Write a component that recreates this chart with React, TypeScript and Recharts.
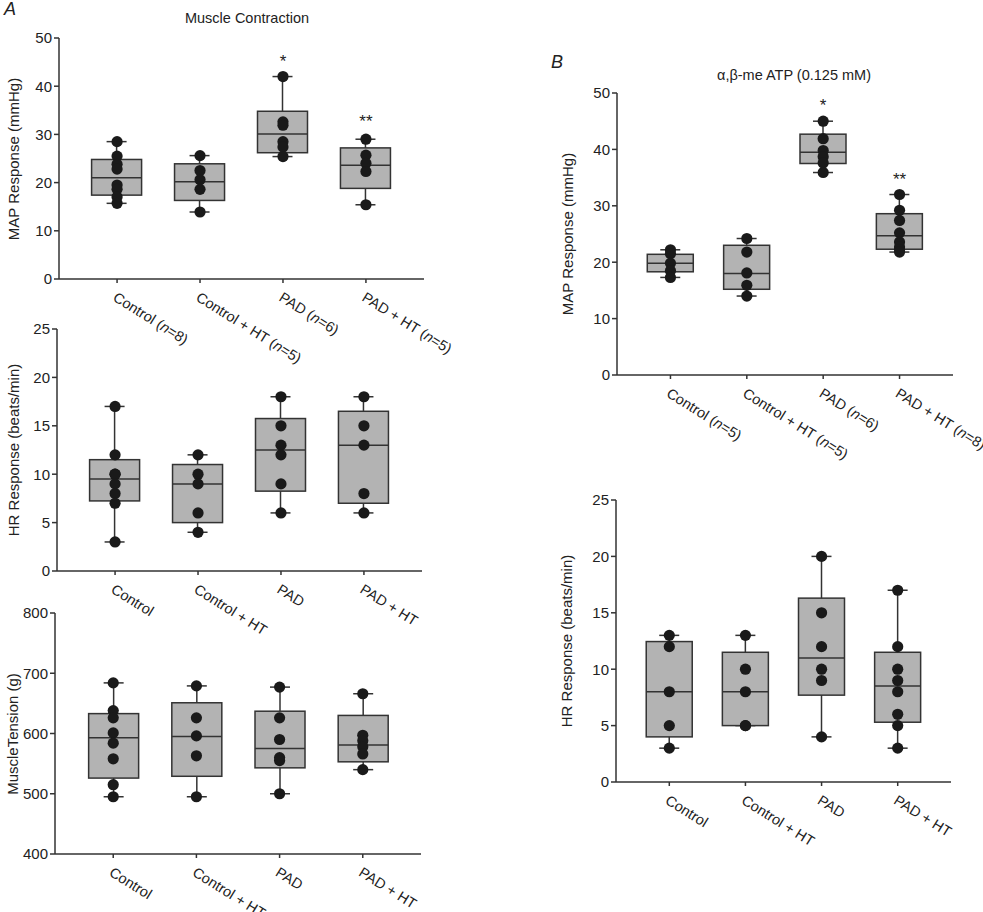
import React from "react";
import { ComposedChart, Bar, Scatter, XAxis, YAxis } from "recharts";

// group names and sample sizes
const groups = ["Control", "Control + HT", "PAD", "PAD + HT"];
const nMapA = [8, 5, 6, 5];
const nMapB = [5, 5, 6, 8];

// A: muscle contraction, MAP response (mmHg)
const mapAPoints = [
  [28.5, 25.5, 23.8, 22.8, 19.5, 18.6, 17, 15.7],
  [25.6, 22.5, 20.6, 18.6, 13.9],
  [42, 32.6, 31.9, 28.5, 27.4, 25.4],
  [29, 25.7, 24, 22.3, 15.4],
];
const mapAQ1 = [17.4, 16.3, 26.2, 18.8];
const mapAMedian = [21.0, 20.2, 30.1, 23.6];
const mapAQ3 = [24.8, 23.9, 34.8, 27.2];
const mapASig = [null, null, "*", "**"];
const mapASigY = [0, 0, 46, 33.7];

// A: HR response (beats/min)
const hrAPoints = [
  [17, 12, 10, 10, 9, 8, 7, 3],
  [12, 10, 9, 6, 4],
  [18, 15, 13, 12, 9, 6],
  [18, 15, 13, 8, 6],
];
const hrAQ1 = [7.24, 5, 8.25, 7];
const hrAMedian = [9.5, 9, 12.5, 13];
const hrAQ3 = [11.5, 11, 15.75, 16.5];

// A: muscle tension (g)
const tensionPoints = [
  [684, 638, 626, 601, 584, 558, 515, 495],
  [679, 626, 596, 563, 495],
  [677, 626, 590, 560, 555, 500],
  [666, 597, 588, 578, 566, 540],
];
const tensionQ1 = [526, 529, 543, 553];
const tensionMedian = [593, 595, 575, 581];
const tensionQ3 = [633, 651, 637, 630];

// B: a,b-me ATP, MAP response (mmHg)
const mapBPoints = [
  [22.2, 21.5, 19.8, 18.5, 17.3],
  [24.2, 21.8, 18.1, 15.9, 14],
  [45, 41.9, 39.8, 38.7, 37.6, 35.9],
  [32, 29.2, 27.4, 25.2, 23.6, 22.7, 22.2, 21.8],
];
const mapBQ1 = [18.3, 15.2, 37.5, 22.3];
const mapBMedian = [19.8, 18, 39.5, 24.7];
const mapBQ3 = [21.4, 23, 42.7, 28.6];
const mapBSig = [null, null, "*", "**"];
const mapBSigY = [0, 0, 48.5, 35.5];

// B: HR response (beats/min)
const hrBPoints = [
  [13, 12, 8, 5, 3],
  [13, 10, 8, 5, 5],
  [20, 15, 12, 10, 9, 4],
  [17, 12, 10, 9, 8, 6, 5, 3],
];
const hrBQ1 = [4, 5, 7.7, 5.3];
const hrBMedian = [8, 8, 11, 8.5];
const hrBQ3 = [12.45, 11.5, 16.3, 11.5];

const INK = "#222";
const AXIS = "#333";
const BOX_FILL = "#b3b3b3";

const BoxShape = (props: any) => {
  const { x, y, width, height, payload } = props;
  if (!payload || height == null) return null;
  const top = Math.min(y, y + height);
  const h = Math.abs(height);
  const [lo, hi] = payload.range;
  const k = h / (hi - lo);
  const py = (v: number) => top + (hi - v) * k;
  const cx = x + width / 2;
  const cap = 10;
  return (
    <g>
      <line x1={cx} x2={cx} y1={py(hi)} y2={py(lo)} stroke={AXIS} strokeWidth={1.5} />
      <line x1={cx - cap} x2={cx + cap} y1={py(hi)} y2={py(hi)} stroke={AXIS} strokeWidth={1.5} />
      <line x1={cx - cap} x2={cx + cap} y1={py(lo)} y2={py(lo)} stroke={AXIS} strokeWidth={1.5} />
      <rect x={x} y={py(payload.q3)} width={width} height={py(payload.q1) - py(payload.q3)} fill={BOX_FILL} stroke={AXIS} strokeWidth={1.5} />
      <line x1={x} x2={x + width} y1={py(payload.median)} y2={py(payload.median)} stroke={AXIS} strokeWidth={1.5} />
    </g>
  );
};

const Dot = (props: any) => {
  const { cx, cy } = props;
  if (cx == null || cy == null) return null;
  return <circle cx={cx} cy={cy} r={5.6} fill="#1a1a1a" />;
};

const SigMark = (props: any) => {
  const { cx, cy, payload } = props;
  if (cx == null || cy == null) return null;
  return (
    <text x={cx} y={cy + 10} textAnchor="middle" fontSize={17} fill={INK}>
      {payload.label}
    </text>
  );
};

const makeTick = (counts?: number[]) => (props: any) => {
  const { x, y, payload } = props;
  const i = Math.round(payload.value) - 1;
  const tx = x - 5;
  const ty = y + 15;
  return (
    <text x={tx} y={ty} transform={`rotate(32, ${tx}, ${ty})`} textAnchor="start" fontSize={14.5} fill={INK}>
      {groups[i]}
      {counts ? (
        <>
          {" ("}
          <tspan fontStyle="italic">n</tspan>
          {`=${counts[i]})`}
        </>
      ) : null}
    </text>
  );
};

interface PanelProps {
  left: number;
  top: number;
  plotWidth: number;
  plotHeight: number;
  yDomain: [number, number];
  yTicks: number[];
  yLabel: string;
  labelX: number;
  points: number[][];
  q1: number[];
  median: number[];
  q3: number[];
  counts?: number[];
  sig?: (string | null)[];
  sigY?: number[];
  boxWidth: number;
}

function BoxPanel(p: PanelProps) {
  const W = 50;
  const T = 10;
  const R = 110;
  const H = 90;
  const rows = groups.map((g, i) => ({
    x: i + 1,
    range: [Math.min(...p.points[i]), Math.max(...p.points[i])],
    q1: p.q1[i],
    median: p.median[i],
    q3: p.q3[i],
  }));
  const dots = p.points.flatMap((vals, i) => vals.map((v) => ({ x: i + 1, y: v })));
  const marks = (p.sig || [])
    .map((s, i) => ({ x: i + 1, y: p.sigY ? p.sigY[i] : 0, label: s }))
    .filter((m) => m.label);

  return (
    <>
      <div style={{ position: "absolute", left: p.left - W, top: p.top - T }}>
        <ComposedChart
          width={W + p.plotWidth + R}
          height={T + p.plotHeight + H}
          data={rows}
          margin={{ top: T, right: R, left: 0, bottom: 0 }}
        >
          <XAxis
            type="number"
            dataKey="x"
            domain={[0.3, 4.7]}
            ticks={[1, 2, 3, 4]}
            allowDataOverflow
            height={H}
            tickSize={4}
            axisLine={{ stroke: AXIS, strokeWidth: 1.5 }}
            tickLine={{ stroke: AXIS, strokeWidth: 1.5 }}
            tick={makeTick(p.counts)}
            interval={0}
          />
          <YAxis
            type="number"
            domain={p.yDomain}
            ticks={p.yTicks}
            allowDataOverflow
            width={W}
            tickSize={5}
            axisLine={{ stroke: AXIS, strokeWidth: 1.5 }}
            tickLine={{ stroke: AXIS, strokeWidth: 1.5 }}
            tick={{ fontSize: 15, fill: INK }}
            interval={0}
          />
          <Bar dataKey="range" barSize={p.boxWidth} shape={BoxShape} isAnimationActive={false} />
          <Scatter data={dots} dataKey="y" shape={Dot} isAnimationActive={false} />
          {marks.length > 0 && (
            <Scatter data={marks} dataKey="y" shape={SigMark} isAnimationActive={false} />
          )}
        </ComposedChart>
      </div>
      <div
        style={{
          position: "absolute",
          left: p.labelX,
          top: p.top + p.plotHeight / 2,
          transform: "translate(-50%, -50%) rotate(-90deg)",
          whiteSpace: "nowrap",
          fontSize: 15,
          lineHeight: 1,
          color: INK,
        }}
      >
        {p.yLabel}
      </div>
    </>
  );
}

export default function App() {
  return (
    <div
      style={{
        position: "absolute",
        left: 0,
        top: 0,
        width: 983,
        height: 912,
        background: "#fff",
        fontFamily: "'Liberation Sans', Arial, sans-serif",
        overflow: "hidden",
      }}
    >
      <div style={{ position: "absolute", left: 4, top: 0, fontSize: 18, lineHeight: 1, fontStyle: "italic", color: INK }}>A</div>
      <div style={{ position: "absolute", left: 247, top: 11, transform: "translateX(-50%)", fontSize: 14.5, lineHeight: 1, color: INK, whiteSpace: "nowrap" }}>
        Muscle Contraction
      </div>
      <div style={{ position: "absolute", left: 551, top: 53, fontSize: 18, lineHeight: 1, fontStyle: "italic", color: INK }}>B</div>
      <div style={{ position: "absolute", left: 794, top: 68, transform: "translateX(-50%)", fontSize: 14.5, lineHeight: 1, color: INK, whiteSpace: "nowrap" }}>
        α,β-me ATP (0.125 mM)
      </div>

      <BoxPanel
        left={59}
        top={38}
        plotWidth={365}
        plotHeight={241}
        yDomain={[0, 50]}
        yTicks={[0, 10, 20, 30, 40, 50]}
        yLabel="MAP Response (mmHg)"
        labelX={13}
        points={mapAPoints}
        q1={mapAQ1}
        median={mapAMedian}
        q3={mapAQ3}
        counts={nMapA}
        sig={mapASig}
        sigY={mapASigY}
        boxWidth={50}
      />
      <BoxPanel
        left={57}
        top={329}
        plotWidth={365}
        plotHeight={242}
        yDomain={[0, 25]}
        yTicks={[0, 5, 10, 15, 20, 25]}
        yLabel="HR Response (beats/min)"
        labelX={13}
        points={hrAPoints}
        q1={hrAQ1}
        median={hrAMedian}
        q3={hrAQ3}
        boxWidth={50}
      />
      <BoxPanel
        left={55}
        top={613}
        plotWidth={366}
        plotHeight={241}
        yDomain={[400, 800]}
        yTicks={[400, 500, 600, 700, 800]}
        yLabel="MuscleTension (g)"
        labelX={12}
        points={tensionPoints}
        q1={tensionQ1}
        median={tensionMedian}
        q3={tensionQ3}
        boxWidth={50}
      />
      <BoxPanel
        left={617}
        top={93}
        plotWidth={336}
        plotHeight={282}
        yDomain={[0, 50]}
        yTicks={[0, 10, 20, 30, 40, 50]}
        yLabel="MAP Response (mmHg)"
        labelX={567}
        points={mapBPoints}
        q1={mapBQ1}
        median={mapBMedian}
        q3={mapBQ3}
        counts={nMapB}
        sig={mapBSig}
        sigY={mapBSigY}
        boxWidth={46}
      />
      <BoxPanel
        left={616}
        top={500}
        plotWidth={335}
        plotHeight={282}
        yDomain={[0, 25]}
        yTicks={[0, 5, 10, 15, 20, 25]}
        yLabel="HR Response (beats/min)"
        labelX={566}
        points={hrBPoints}
        q1={hrBQ1}
        median={hrBMedian}
        q3={hrBQ3}
        boxWidth={46}
      />
    </div>
  );
}
